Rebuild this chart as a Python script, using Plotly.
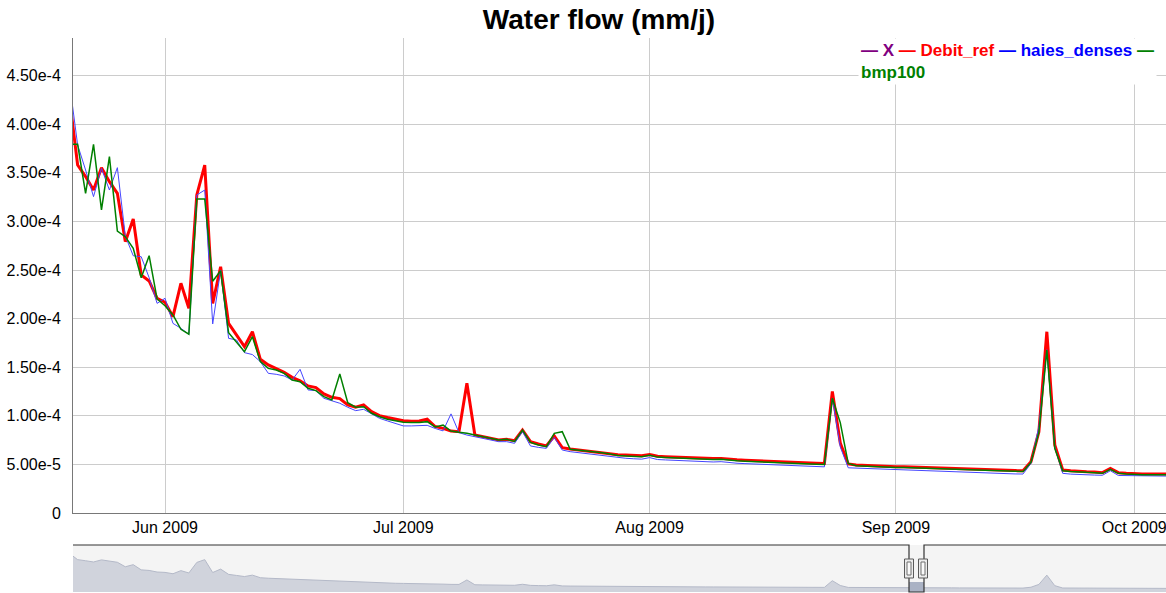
import pandas as pd
import plotly.graph_objects as go

# ---------------- data (values in units of 1e-5 mm/j) ----------------
start_date = "2009-05-20"
n_days = 139
dates = pd.date_range(start_date, periods=n_days, freq="D")

debit_ref = [
    42.5, 35.80, 34.61, 33.23, 35.53, 34.09, 32.89, 27.92, 30.25, 24.49,
    23.87, 22.09, 21.68, 20.20, 23.63, 21.06, 32.72, 35.80, 21.57, 25.34,
    19.51, 18.31, 17.11, 18.65, 15.81, 15.23, 14.88, 14.47, 13.96, 13.61,
    13.07, 12.90, 12.25, 11.90, 11.77, 11.12, 10.88, 11.12, 10.43, 10.02,
    9.82, 9.65, 9.50, 9.43, 9.47, 9.65, 8.90, 8.71, 8.43, 8.37,
    13.34, 8.02, 7.85, 7.68, 7.51, 7.58, 7.44, 8.54, 7.34, 7.10,
    6.90, 7.92, 6.72, 6.58, 6.48, 6.38, 6.27, 6.14, 6.05, 6.00,
    5.96, 5.92, 5.88, 6.02, 5.84, 5.80, 5.76, 5.72, 5.68, 5.65,
    5.62, 5.60, 5.62, 5.52, 5.47, 5.42, 5.38, 5.34, 5.30, 5.26,
    5.22, 5.20, 5.18, 5.15, 5.12, 5.10, 12.50, 7.20, 5.05, 4.95,
    4.90, 4.87, 4.84, 4.80, 4.77, 4.75, 4.72, 4.70, 4.67, 4.63,
    4.60, 4.57, 4.52, 4.48, 4.45, 4.42, 4.40, 4.38, 4.37, 4.36,
    4.35, 5.28, 8.37, 18.65, 7.00, 4.42, 4.35, 4.28, 4.25, 4.22,
    4.15, 4.59, 4.15, 4.08, 4.03, 4.01, 4.01, 4.01, 4.01,
]

haies_denses = [
    44.1, 37.87, 35.29, 32.55, 35.46, 33.23, 35.53, 28.50, 26.47, 26.37,
    24.21, 21.57, 22.09, 19.51, 19.00, 18.38, 32.72, 33.23, 19.45, 25.00,
    17.97, 17.80, 16.50, 16.30, 15.57, 14.37, 14.27, 14.10, 13.68, 14.78,
    12.66, 12.59, 11.80, 11.56, 11.29, 10.88, 10.53, 10.67, 10.19, 9.74,
    9.47, 9.23, 8.96, 8.96, 8.96, 9.02, 8.70, 8.45, 10.20, 8.27,
    8.02, 7.85, 7.68, 7.51, 7.34, 7.34, 7.17, 8.37, 6.90, 6.75,
    6.65, 7.78, 6.48, 6.31, 6.21, 6.14, 6.04, 5.93, 5.80, 5.68,
    5.63, 5.58, 5.54, 5.70, 5.50, 5.46, 5.42, 5.38, 5.34, 5.30,
    5.28, 5.25, 5.28, 5.18, 5.12, 5.08, 5.04, 5.00, 4.96, 4.92,
    4.88, 4.85, 4.83, 4.80, 4.77, 4.75, 11.80, 6.80, 4.65, 4.62,
    4.57, 4.54, 4.51, 4.47, 4.44, 4.42, 4.39, 4.37, 4.34, 4.30,
    4.27, 4.24, 4.19, 4.15, 4.12, 4.08, 4.06, 4.04, 4.03, 4.02,
    4.01, 5.10, 8.90, 16.80, 6.80, 4.08, 4.00, 3.95, 3.92, 3.90,
    3.88, 4.35, 3.86, 3.84, 3.82, 3.80, 3.80, 3.80, 3.80,
]

bmp100 = [
    37.93, 37.93, 32.89, 37.93, 31.18, 36.66, 29.01, 28.43, 27.23, 24.21,
    26.47, 22.02, 21.33, 20.37, 18.90, 18.40, 32.31, 32.31, 23.85, 24.92,
    18.55, 17.63, 16.60, 18.14, 15.57, 14.88, 14.71, 14.37, 13.68, 13.51,
    12.83, 12.59, 11.97, 11.63, 14.31, 11.35, 10.88, 10.94, 10.26, 9.91,
    9.65, 9.50, 9.33, 9.30, 9.30, 9.40, 8.85, 9.05, 8.43, 8.30,
    8.20, 8.02, 7.85, 7.68, 7.51, 7.58, 7.37, 8.54, 7.27, 7.00,
    6.83, 8.20, 8.37, 6.55, 6.48, 6.41, 6.31, 6.21, 6.07, 5.91,
    5.87, 5.83, 5.79, 5.95, 5.75, 5.70, 5.66, 5.62, 5.58, 5.55,
    5.52, 5.50, 5.53, 5.42, 5.37, 5.32, 5.28, 5.24, 5.20, 5.16,
    5.12, 5.10, 5.08, 5.05, 5.02, 5.00, 11.80, 9.30, 5.10, 4.87,
    4.82, 4.79, 4.76, 4.72, 4.69, 4.67, 4.64, 4.62, 4.59, 4.55,
    4.52, 4.49, 4.44, 4.40, 4.37, 4.35, 4.33, 4.31, 4.30, 4.29,
    4.28, 5.20, 8.30, 16.77, 6.65, 4.35, 4.28, 4.21, 4.18, 4.15,
    4.08, 4.50, 4.08, 4.01, 3.96, 3.94, 3.94, 3.94, 3.94,
]

unit = 1e-5
y_tick_vals = [0, 5e-5, 1e-4, 1.5e-4, 2e-4, 2.5e-4, 3e-4, 3.5e-4, 4e-4, 4.5e-4]
y_tick_text = ["0", "5.00e-5", "1.00e-4", "1.50e-4", "2.00e-4", "2.50e-4",
               "3.00e-4", "3.50e-4", "4.00e-4", "4.50e-4"]
x_view = ["2009-05-20 10:00", "2009-10-05 00:00"]
y_view = [0, 4.887e-4]

series_colors = {"X": "#800080", "Debit_ref": "#ff0000",
                 "haies_denses": "#0000ff", "bmp100": "#008000"}

FONT = "Liberation Sans, Arial, Helvetica, sans-serif"
GRID = "rgb(204,204,204)"
AXIS = "rgb(120,120,120)"

fig = go.Figure()
fig.add_trace(go.Scatter(x=dates, y=[v * unit for v in debit_ref], mode="lines",
                         name="Debit_ref",
                         line=dict(color=series_colors["Debit_ref"], width=3)))
fig.add_trace(go.Scatter(x=dates, y=[v * unit for v in haies_denses], mode="lines",
                         name="haies_denses",
                         line=dict(color="rgb(70,70,255)", width=1)))
fig.add_trace(go.Scatter(x=dates, y=[v * unit for v in bmp100], mode="lines",
                         name="bmp100",
                         line=dict(color=series_colors["bmp100"], width=1.5)))
# mini overview (range selector look-alike)
fig.add_trace(go.Scatter(x=dates, y=[v * unit for v in debit_ref], mode="lines",
                         xaxis="x2", yaxis="y2", fill="tozeroy",
                         fillcolor="rgb(208,211,220)",
                         line=dict(color="rgb(180,185,200)", width=1),
                         hoverinfo="skip", showlegend=False))

# paper-coordinate helpers for the overview panel decoration
def px_x(px):
    return (px - 73) / 1093.0

def px_y(py):
    return (593 - py) / 555.0

panel_top, panel_bot = px_y(545), px_y(592)
win_l, win_r = px_x(909), px_x(924)

shapes = [
    dict(type="rect", xref="paper", yref="paper", x0=0, x1=1, y0=panel_bot, y1=panel_top,
         fillcolor="rgb(244,244,244)", line=dict(width=0), layer="below"),
    dict(type="rect", xref="paper", yref="paper", x0=win_l, x1=win_r, y0=panel_bot, y1=px_y(582),
         fillcolor="rgb(170,178,196)", line=dict(width=0), layer="above"),
    dict(type="path", xref="paper", yref="paper",
         path=f"M 0 {panel_top} L {win_l} {panel_top} L {win_l} {panel_bot} "
              f"L {win_r} {panel_bot} L {win_r} {panel_top} L 1 {panel_top}",
         line=dict(color="rgb(50,50,50)", width=1.2), layer="above"),
]
for hl, hr in [(904.5, 913.5), (918.5, 927.5)]:
    shapes.append(dict(type="rect", xref="paper", yref="paper",
                       x0=px_x(hl), x1=px_x(hr), y0=px_y(578), y1=px_y(559),
                       fillcolor="rgb(236,236,236)", line=dict(color="rgb(90,90,90)", width=1),
                       layer="above"))
    shapes.append(dict(type="rect", xref="paper", yref="paper",
                       x0=px_x(hl + 2.5), x1=px_x(hr - 2.5), y0=px_y(575), y1=px_y(562),
                       fillcolor="rgb(250,250,250)", line=dict(color="rgb(110,110,110)", width=1),
                       layer="above"))

legend_text = (
    f"<b><span style='color:{series_colors['X']}'>— X</span></b> "
    f"<b><span style='color:{series_colors['Debit_ref']}'>— Debit_ref</span></b> "
    f"<b><span style='color:{series_colors['haies_denses']}'>— haies_denses</span></b> "
    f"<b><span style='color:{series_colors['bmp100']}'>—</span></b><br>"
    f"<b><span style='color:{series_colors['bmp100']}'>bmp100</span></b>"
)

fig.update_layout(
    template="none",
    width=1166, height=593, autosize=False,
    margin=dict(l=73, r=0, t=38, b=0, pad=0, autoexpand=False),
    paper_bgcolor="white", plot_bgcolor="white",
    showlegend=False,
    font=dict(family=FONT, size=16, color="black"),
    title=dict(text="<b>Water flow (mm/j)</b>", x=599 / 1166, xanchor="center",
               y=1 - 19 / 593, yanchor="middle", xref="container", yref="container",
               font=dict(family=FONT, size=28, color="black")),
    xaxis=dict(domain=[0, 1], anchor="y", type="date", range=x_view,
               dtick="M1", tick0="2009-06-01", tickformat="%b %Y",
               showgrid=True, gridcolor=GRID, gridwidth=1,
               showline=True, linecolor=AXIS, linewidth=1, ticks="",
               automargin=False, ticklabeloverflow="allow",
               zeroline=False, tickfont=dict(family=FONT, size=16, color="black")),
    yaxis=dict(domain=[px_y(513), 1], anchor="x", range=y_view,
               tickvals=y_tick_vals, ticktext=y_tick_text,
               showgrid=True, gridcolor=GRID, gridwidth=1,
               showline=True, linecolor=AXIS, linewidth=1, ticks="",
               ticklabelstandoff=8, automargin=False,
               zeroline=False, tickfont=dict(family=FONT, size=16, color="black")),
    xaxis2=dict(domain=[0, 1], anchor="y2", type="date", range=x_view,
                visible=False, automargin=False),
    yaxis2=dict(domain=[panel_bot, panel_top], anchor="x2", range=[0, 5.2e-4],
                visible=False, automargin=False),
    shapes=shapes,
    annotations=[dict(text=legend_text, xref="paper", yref="paper",
                      x=px_x(858), y=1, xanchor="left", yanchor="top",
                      align="left", showarrow=False, bgcolor="white",
                      borderpad=2, font=dict(family=FONT, size=17))],
)

fig.write_html("out.html", config={"displayModeBar": False},
               post_script="document.body.style.margin='0';document.body.style.overflow='hidden';")
